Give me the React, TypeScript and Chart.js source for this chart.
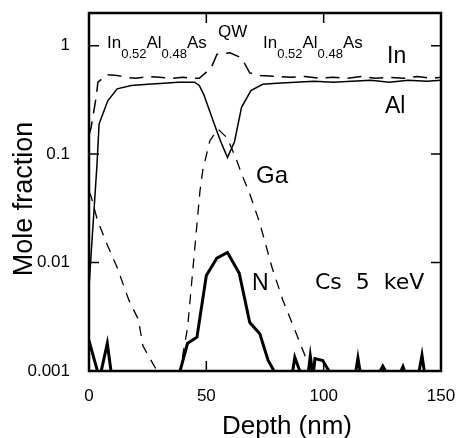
import { useEffect, useRef } from "react";
import { Chart, registerables } from "chart.js";

Chart.register(...registerables);

// ---- axis ticks ----
const X_TICKS = [0, 50, 100, 150];
const Y_TICKS = [0.001, 0.01, 0.1, 1];
const Y_TICK_LABELS = ["0.001", "0.01", "0.1", "1"];

// ---- In (dashed) ----
const IN_X = [0, 0.9, 3, 3.8, 7.7, 12, 16, 20, 25, 30, 35, 40, 44, 47, 52, 54.5, 60, 65, 68.5, 73, 80, 86, 92, 98, 104, 110, 116, 122, 128, 134, 140, 146, 150];
const IN_Y = [0.15, 0.176, 0.33, 0.46, 0.54, 0.53, 0.51, 0.5, 0.52, 0.51, 0.5, 0.51, 0.5, 0.5, 0.62, 0.83, 0.86, 0.77, 0.56, 0.53, 0.52, 0.51, 0.52, 0.5, 0.51, 0.5, 0.52, 0.5, 0.51, 0.5, 0.52, 0.5, 0.51];

// ---- Al (solid) ----
const AL_X = [0, 3.4, 4.3, 8, 12, 18, 25, 32, 38, 45, 47, 49, 53, 56, 59, 62, 65, 69, 74, 80, 88, 96, 104, 112, 120, 128, 136, 144, 150];
const AL_Y = [0.006, 0.08, 0.19, 0.31, 0.4, 0.43, 0.44, 0.45, 0.46, 0.46, 0.43, 0.35, 0.2, 0.133, 0.093, 0.13, 0.27, 0.385, 0.44, 0.45, 0.46, 0.47, 0.46, 0.47, 0.48, 0.46, 0.48, 0.47, 0.48];

// ---- Ga (dashed) ----
const GA_X = [0, 1, 3.5, 7, 12, 17, 21, 23, 29, 32, 36, 38.8, 42, 46.4, 47.3, 48.5, 51.5, 55, 59, 63, 65, 68.5, 72.8, 78, 82.6, 87.7, 92.8, 95, 98];
const GA_Y = [0.045, 0.04, 0.025, 0.016, 0.009, 0.0045, 0.003, 0.0017, 0.001, 0.0007, 0.0007, 0.001, 0.0025, 0.028, 0.046, 0.071, 0.133, 0.17, 0.14, 0.087, 0.066, 0.043, 0.023, 0.009, 0.0045, 0.0024, 0.00126, 0.001, 0.0008];

// ---- N (thick solid) ----
const N_X = [0, 4.5, 7.8, 9.8, 14, 20, 30, 38.8, 42, 46, 50, 54.5, 59, 64, 68.5, 72.8, 76.3, 80, 84, 86.5, 87.7, 90.6, 93, 94.3, 95.5, 96.3, 99.6, 103.5, 108, 113, 114.6, 116.2, 120, 123, 125.2, 127.5, 131, 133.8, 136, 140.3, 141.9, 143.5, 147, 150];
const N_Y = [0.0019, 0.00085, 0.0018, 0.00085, 0.0008, 0.0008, 0.0008, 0.001, 0.0018, 0.00205, 0.0076, 0.011, 0.0124, 0.008, 0.0028, 0.0022, 0.00126, 0.0009, 0.0008, 0.0009, 0.00134, 0.0009, 0.0008, 0.00138, 0.0009, 0.0013, 0.00125, 0.0009, 0.0008, 0.0008, 0.00132, 0.0008, 0.0008, 0.0009, 0.00111, 0.0009, 0.0008, 0.0011, 0.0008, 0.0009, 0.0014, 0.0008, 0.0008, 0.0008];

const SANS = "'Liberation Sans', Arial, Helvetica, sans-serif";

function pts(xs: number[], ys: number[]) {
  return xs.map((x, i) => ({ x, y: ys[i] }));
}

const framePlugin = {
  id: "frameAndText",
  afterDraw(chart: any) {
    const { ctx, chartArea: a, scales } = chart;
    const xs = scales.x;
    const ys = scales.y;
    ctx.save();
    ctx.strokeStyle = "#000";
    // inward ticks
    ctx.lineWidth = 1.5;
    const TL = 10;
    ctx.beginPath();
    X_TICKS.forEach((v) => {
      const px = xs.getPixelForValue(v);
      ctx.moveTo(px, a.bottom);
      ctx.lineTo(px, a.bottom - TL);
      ctx.moveTo(px, a.top);
      ctx.lineTo(px, a.top + TL);
    });
    Y_TICKS.forEach((v) => {
      const py = ys.getPixelForValue(v);
      ctx.moveTo(a.left, py);
      ctx.lineTo(a.left + TL, py);
      ctx.moveTo(a.right, py);
      ctx.lineTo(a.right - TL, py);
    });
    ctx.stroke();
    // frame
    ctx.lineWidth = 2.5;
    ctx.strokeRect(a.left, a.top, a.right - a.left, a.bottom - a.top);

    // texts
    ctx.fillStyle = "#000";
    ctx.textBaseline = "alphabetic";
    ctx.textAlign = "left";
    const comp = (x0: number, base: number) => {
      let x = x0;
      const parts: [string, boolean][] = [["In", false], ["0.52", true], ["Al", false], ["0.48", true], ["As", false]];
      parts.forEach(([t, sub]) => {
        ctx.font = sub ? `13px ${SANS}` : `17px ${SANS}`;
        ctx.fillText(t, x, sub ? base + 10 : base);
        x += ctx.measureText(t).width;
      });
    };
    comp(107, 48);
    comp(263, 48);
    ctx.font = `17px ${SANS}`;
    ctx.fillText("QW", 218, 37);
    ctx.font = `23px ${SANS}`;
    ctx.fillText("In", 387, 63);
    ctx.fillText("Al", 385, 113);
    ctx.font = `24px ${SANS}`;
    ctx.fillText("Ga", 256, 183);
    ctx.font = `23px ${SANS}`;
    ctx.fillText("N", 252, 290);
    ctx.font = `22px 'DejaVu Sans', Verdana, sans-serif`;
    ctx.fillText("Cs  5  keV", 315, 289);

    // axis titles
    ctx.font = `26px ${SANS}`;
    ctx.textAlign = "center";
    ctx.fillText("Depth (nm)", 287, 434);
    ctx.save();
    ctx.font = `27px ${SANS}`;
    ctx.translate(32, 199);
    ctx.rotate(-Math.PI / 2);
    ctx.fillText("Mole fraction", 0, 0);
    ctx.restore();
    ctx.restore();
  },
};

export default function App() {
  const ref = useRef<HTMLCanvasElement>(null);
  useEffect(() => {
    if (!ref.current) return;
    const tickFont = { family: SANS, size: 17 };
    const chart = new Chart(ref.current, {
      type: "scatter",
      data: {
        datasets: [
          { label: "In", data: pts(IN_X, IN_Y), showLine: true, borderColor: "#000", borderWidth: 1.5, borderDash: [14, 8], pointRadius: 0, tension: 0 },
          { label: "Al", data: pts(AL_X, AL_Y), showLine: true, borderColor: "#000", borderWidth: 1.5, pointRadius: 0, tension: 0 },
          { label: "Ga", data: pts(GA_X, GA_Y), showLine: true, borderColor: "#000", borderWidth: 1.3, borderDash: [10, 8], pointRadius: 0, tension: 0 },
          { label: "N", data: pts(N_X, N_Y), showLine: true, borderColor: "#000", borderWidth: 3, pointRadius: 0, tension: 0, borderJoinStyle: "miter" },
        ],
      } as any,
      options: {
        responsive: false,
        animation: false,
        devicePixelRatio: 1,
        layout: { padding: { top: 13, right: 21, left: 0, bottom: 0 } },
        plugins: { legend: { display: false }, tooltip: { enabled: false } },
        scales: {
          x: {
            type: "linear",
            min: 0,
            max: 150,
            afterBuildTicks: (s: any) => {
              s.ticks = X_TICKS.map((v) => ({ value: v }));
            },
            afterFit: (s: any) => {
              s.height = 67;
              s.paddingLeft = 0;
              s.paddingRight = 0;
            },
            ticks: { font: tickFont, color: "#000", padding: 7, maxRotation: 0, autoSkip: false, callback: (v: any) => String(v) },
            grid: { display: false },
            border: { display: false },
          },
          y: {
            type: "logarithmic",
            min: 0.001,
            max: 2,
            afterBuildTicks: (s: any) => {
              s.ticks = Y_TICKS.map((v) => ({ value: v }));
            },
            afterFit: (s: any) => {
              s.width = 89;
              s.paddingTop = 0;
              s.paddingBottom = 0;
            },
            ticks: {
              font: tickFont,
              color: "#000",
              padding: 11,
              autoSkip: false,
              callback: (v: any) => {
                const i = Y_TICKS.findIndex((t) => Math.abs(t - v) / t < 1e-6);
                return i >= 0 ? Y_TICK_LABELS[i] : "";
              },
            },
            grid: { display: false },
            border: { display: false },
          },
        },
      } as any,
      plugins: [framePlugin],
    });
    return () => chart.destroy();
  }, []);
  return (
    <div style={{ position: "absolute", left: 0, top: 0, width: 462, height: 438 }}>
      <canvas ref={ref} width={462} height={438} style={{ width: 462, height: 438, display: "block" }} />
    </div>
  );
}
